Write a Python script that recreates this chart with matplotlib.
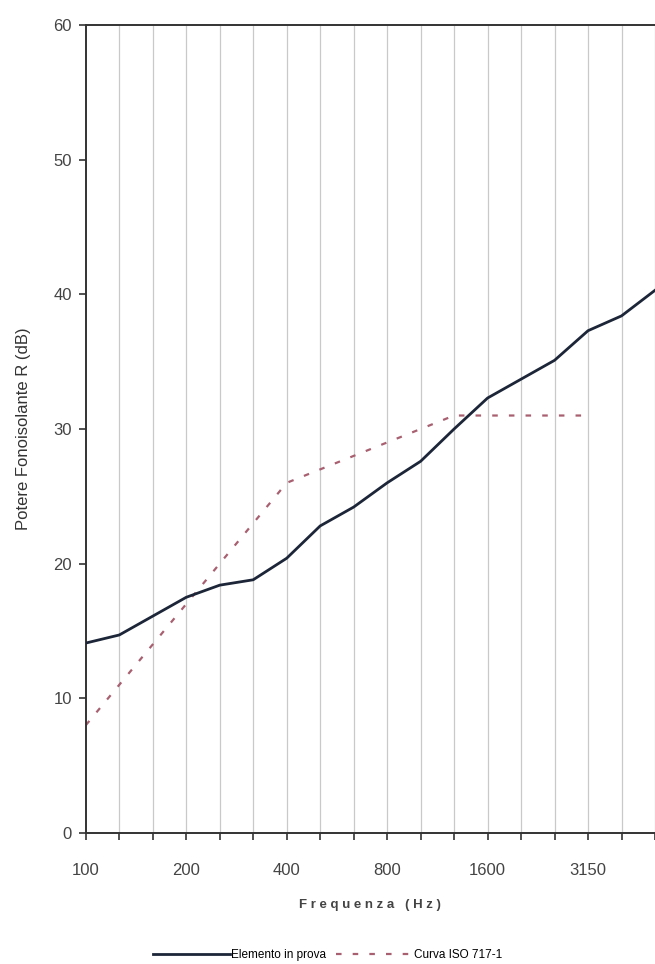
import matplotlib
matplotlib.use("Agg")
import matplotlib.pyplot as plt
import numpy as np

plt.rcParams['font.family'] = ['Liberation Sans', 'DejaVu Sans']

bands = ["100", "125", "160", "200", "250", "315", "400", "500", "630", "800",
         "1000", "1250", "1600", "2000", "2500", "3150", "4000", "5000"]
elemento = [14.1, 14.7, 16.1, 17.5, 18.4, 18.8, 20.4, 22.8, 24.2, 26.0,
            27.6, 30.0, 32.3, 33.7, 35.1, 37.3, 38.4, 40.3]
iso_bands = bands[:16]
iso_curve = [8, 11, 14, 17, 20, 23, 26, 27, 28, 29, 30, 31, 31, 31, 31, 31]
label_every = 3

fig = plt.figure(figsize=(6.55, 9.64), dpi=100)
ax = fig.add_axes([0.131, 0.136, 0.869, 0.838])

x = np.arange(len(bands))
xi = np.arange(len(iso_bands))

for xv in x[1:]:
    ax.axvline(xv, color='#c9c9c9', lw=0.9, zorder=0)

ax.plot(x, elemento, color='#1c2638', lw=2.0, label='Elemento in prova', zorder=3)
ax.plot(xi, iso_curve, color='#a86070', lw=1.6, ls=(0, (2.5, 5)),
        label='Curva ISO 717-1', zorder=2)

ax.set_xlim(0, 16.91)
ax.set_ylim(0, 60)
ax.set_yticks(np.arange(0, 61, 10))
ax.set_xticks(x)
ax.set_xticklabels([b if i % label_every == 0 else '' for i, b in enumerate(bands)])
ax.tick_params(axis='both', direction='out', length=5, width=1.2, colors='#333333',
               labelsize=12, labelcolor='#444444')
ax.tick_params(axis='x', pad=17)
ax.tick_params(axis='y', pad=5)

for s in ['left', 'bottom', 'top']:
    ax.spines[s].set_color('#333333')
    ax.spines[s].set_linewidth(1.4)
ax.spines['right'].set_visible(False)

ax.set_ylabel('Potere Fonoisolante R (dB)', fontsize=12, color='#333333', labelpad=16)
ax.set_xlabel('F r e q u e n z a   ( H z )', fontsize=9.5, fontweight='bold',
              color='#444444', labelpad=15)

fig.legend(loc='center', bbox_to_anchor=(0.5, 0.009), ncol=2, frameon=False,
           fontsize=8.5, handlelength=6.5, handletextpad=0.1, columnspacing=0.8)

fig.savefig('out.png', dpi=100, facecolor='white')
